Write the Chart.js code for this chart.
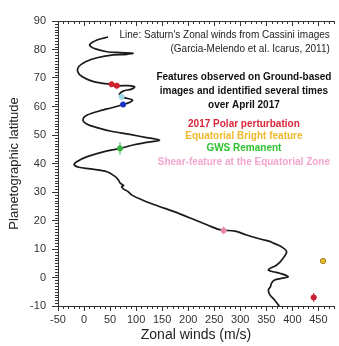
<!DOCTYPE html>
<html>
<head>
<meta charset="utf-8">
<script src="https://cdn.jsdelivr.net/npm/chart.js@4.4.1/dist/chart.umd.min.js"></script>
<style>
  html, body { margin: 0; padding: 0; background: #fff; }
  #wrap { width: 339px; height: 346px; }
</style>
</head>
<body>
<div id="wrap"><canvas id="winds"></canvas></div>
<script>
// Cassini zonal wind profile (north to south)
const profileLat = [
  84.4, 84.1, 83.3, 81.8, 81.0, 80.2, 79.2, 78.9, 78.7, 78.3, 78.1, 77.1, 75.7, 74.0, 72.2, 70.5,
  68.9, 68.1, 67.8, 67.3, 67.3, 66.9, 66.1, 65.4, 64.3, 63.4, 62.9, 62.3, 61.5, 60.7, 59.4, 58.8,
  57.0, 55.3, 53.8, 52.6, 51.4, 50.2, 49.1, 48.2, 47.4, 46.5, 45.3, 44.1, 42.4, 40.6, 39.5, 38.7,
  38.1, 37.1, 35.4, 34.2, 33.0, 32.3, 31.8, 31.0, 30.2, 28.9, 27.2, 25.1, 23.1, 20.8, 18.4, 16.7,
  16.3, 14.9, 13.5, 12.6, 12.2, 10.8, 9.1, 6.7, 4.4, 3.2, 2.6, 2.0, 1.5, 0.3, -0.3, -0.9,
  -2.0, -3.2, -4.4, -6.1, -7.9, -9.6, -10.0
];
const profileWind = [
  46, 40, 25, 11, 13, 22, 44, 69, 94, 82, 56, 25, 3, -10, -12, -4,
  15, 37, 53, 63, 85, 97, 91, 75, 68, 72, 82, 93, 88, 75, 50, 37,
  6, -2, 6, 25, 50, 88, 120, 145, 120, 94, 69, 37, 6, -14, -19, -10,
  12, 44, 60, 66, 70, 76, 72, 76, 84, 92, 112, 142, 173, 205, 237, 262,
  290, 312, 338, 358, 362, 379, 389, 382, 370, 357, 354, 363, 376, 392, 379, 366,
  360, 358, 354, 357, 366, 373, 375
];

// ground-based features, April 2017
const featureWind = [53, 63, 72, 75, 69, 268, 459, 441];
const featureLat = [67.8, 67.3, 63.4, 60.7, 45.3, 16.5, 5.8, -7.0];
const featureErr = [0, 0, 0, 0, 2.2, 1.4, 0, 1.6];
const featureColor = ['#d0202e', '#d0202e', '#9fdbe6', '#1c2fc4', '#3cb043', '#e88aaa', '#e8c030', '#c81e32'];

const xTicks = [-50, 0, 50, 100, 150, 200, 250, 300, 350, 400, 450];
const yTicks = [-10, 0, 10, 20, 30, 40, 50, 60, 70, 80, 90];

const notes = [
  { text: "Line: Saturn's Zonal winds from Cassini images", x: 472, y: 85.1, align: 'right', color: '#222', bold: false },
  { text: '(Garcia-Melendo et al. Icarus, 2011)', x: 472, y: 80.2, align: 'right', color: '#222', bold: false },
  { text: 'Features observed on Ground-based', x: 307, y: 70.4, align: 'center', color: '#111', bold: true },
  { text: 'images and identified several times', x: 307, y: 65.5, align: 'center', color: '#111', bold: true },
  { text: 'over April 2017', x: 307, y: 60.6, align: 'center', color: '#111', bold: true },
  { text: '2017 Polar perturbation', x: 307, y: 53.9, align: 'center', color: '#d8283a', bold: true },
  { text: 'Equatorial Bright feature', x: 307, y: 49.6, align: 'center', color: '#f0b82a', bold: true },
  { text: 'GWS Remanent', x: 307, y: 45.4, align: 'center', color: '#2ec02e', bold: true },
  { text: 'Shear-feature at the Equatorial Zone', x: 307, y: 40.5, align: 'center', color: '#f2a6cf', bold: true }
];

const FONT = "'Liberation Sans', Arial, sans-serif";

const decor = {
  id: 'decor',
  beforeDatasetsDraw(chart) {
    const { ctx, chartArea: a, scales: { x, y } } = chart;
    ctx.save();
    ctx.strokeStyle = '#333';
    ctx.lineWidth = 1;
    ctx.beginPath();
    // top frame line
    ctx.moveTo(a.left, a.top + 0.5);
    ctx.lineTo(a.right, a.top + 0.5);
    for (let v = -50; v <= 480; v += 10) {
      const px = Math.round(x.getPixelForValue(v)) + 0.5;
      const big = v % 50 === 0;
      ctx.moveTo(px, a.bottom);
      ctx.lineTo(px, a.bottom + (big ? 5 : 3));
      ctx.moveTo(px, a.top);
      ctx.lineTo(px, a.top + (big ? 5 : 3));
    }
    for (let v = -10; v <= 90; v += 1) {
      if (v % 10 === 0) continue;
      const py = Math.round(y.getPixelForValue(v)) + 0.5;
      ctx.moveTo(a.left, py);
      ctx.lineTo(a.left - 3, py);
    }
    ctx.stroke();

    // notes
    ctx.textBaseline = 'middle';
    notes.forEach(n => {
      ctx.font = (n.bold ? 'bold ' : '') + '10px ' + FONT;
      ctx.fillStyle = n.color;
      ctx.textAlign = n.align;
      ctx.fillText(n.text, x.getPixelForValue(n.x), y.getPixelForValue(n.y));
    });
    ctx.restore();
  },
  afterDatasetsDraw(chart) {
    const { ctx, scales: { x, y } } = chart;
    ctx.save();
    ctx.lineWidth = 1;
    featureErr.forEach((e, i) => {
      if (!e) return;
      const px = x.getPixelForValue(featureWind[i]);
      ctx.strokeStyle = featureColor[i];
      ctx.beginPath();
      ctx.moveTo(px, y.getPixelForValue(featureLat[i] + e));
      ctx.lineTo(px, y.getPixelForValue(featureLat[i] - e));
      const py = y.getPixelForValue(featureLat[i]);
      ctx.moveTo(px - 3, py);
      ctx.lineTo(px + 3, py);
      ctx.stroke();
    });
    ctx.restore();
  }
};

new Chart(document.getElementById('winds'), {
  type: 'scatter',
  data: {
    datasets: [
      {
        label: 'Features',
        data: featureWind.map((w, i) => ({ x: w, y: featureLat[i] })),
        pointRadius: 2.6,
        pointBackgroundColor: featureColor,
        pointBorderColor: featureColor.map(c => c === '#e8c030' ? '#a07a10' : c),
        pointBorderWidth: 1,
        showLine: false,
        order: 0
      },
      {
        label: 'Cassini',
        data: profileWind.map((w, i) => ({ x: w, y: profileLat[i] })),
        showLine: true,
        borderColor: '#1a1a1a',
        borderWidth: 1.7,
        pointRadius: 0,
        tension: 0.35,
        order: 1
      }
    ]
  },
  plugins: [decor],
  options: {
    responsive: true,
    maintainAspectRatio: false,
    animation: false,
    layout: { padding: { top: 21, right: 2, left: 0, bottom: 0 } },
    plugins: { legend: { display: false }, tooltip: { enabled: false } },
    scales: {
      x: {
        type: 'linear',
        min: -50,
        max: 480,
        afterBuildTicks: s => { s.ticks = xTicks.map(v => ({ value: v })); },
        afterFit: s => { s.height = 40; },
        grid: { display: true, drawOnChartArea: false, tickLength: 5, color: '#333' },
        border: { display: true, color: '#333', width: 1 },
        ticks: { color: '#333', padding: 2, font: { size: 11, family: FONT }, maxRotation: 0 },
        title: { display: true, text: 'Zonal winds (m/s)', color: '#222', font: { size: 14, family: FONT }, padding: { top: 0, bottom: 2 } }
      },
      y: {
        type: 'linear',
        min: -10,
        max: 90,
        afterBuildTicks: s => { s.ticks = yTicks.map(v => ({ value: v })); },
        afterFit: s => { s.width = 58; },
        grid: { display: true, drawOnChartArea: false, tickLength: 6, color: '#333' },
        border: { display: true, color: '#333', width: 1 },
        ticks: { color: '#333', padding: 6, font: { size: 11, family: FONT } },
        title: { display: true, text: 'Planetographic latitude', color: '#222', font: { size: 13, family: FONT }, padding: { top: 7, bottom: 0 } }
      }
    }
  }
});
</script>
</body>
</html>
